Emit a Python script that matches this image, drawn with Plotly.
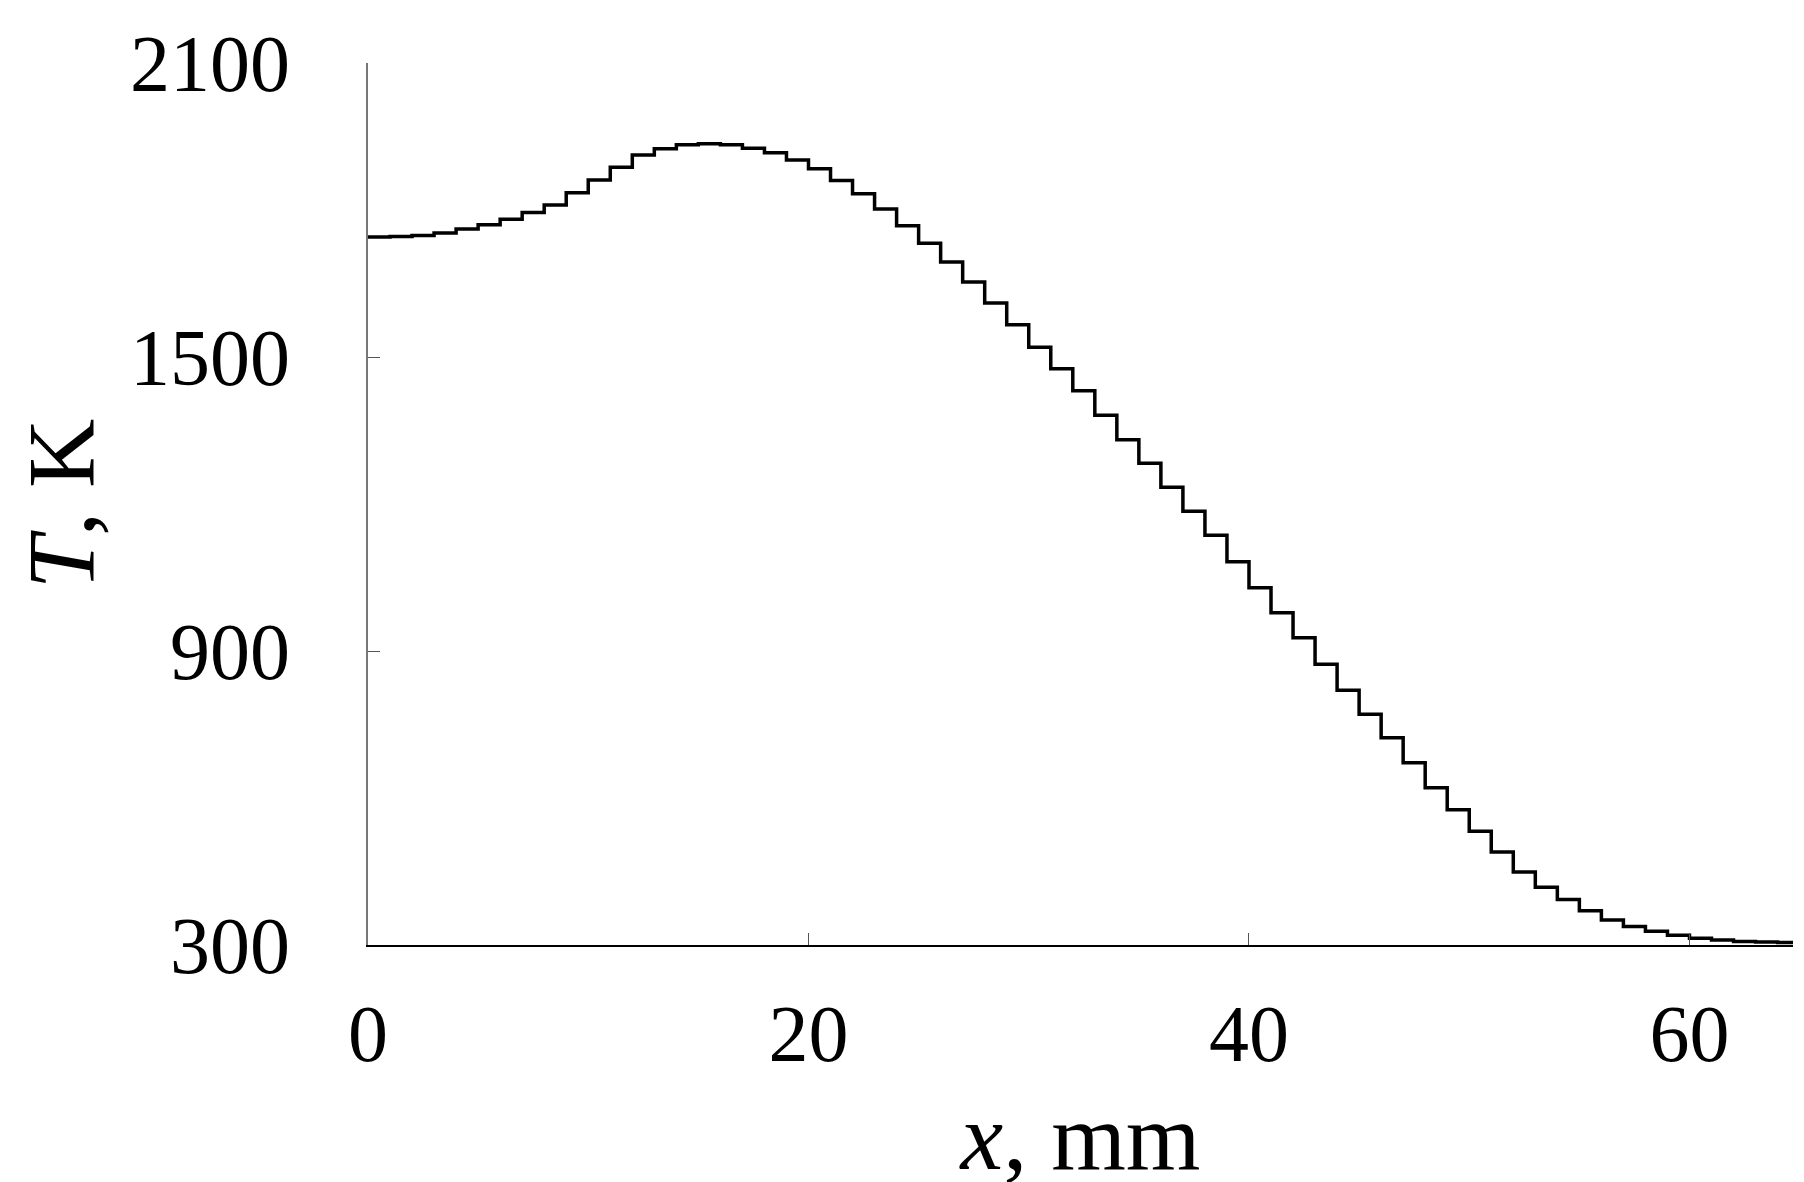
import plotly.graph_objects as go

# temperature profile, one value per mm
x_mm = list(range(0, 65)) + [64.7]
temp_k = [1745, 1746, 1748, 1753, 1761, 1770, 1781, 1795, 1810, 1835,
          1861, 1887, 1912, 1925, 1933, 1935, 1933, 1926, 1917, 1902,
          1884, 1860, 1833, 1802, 1768, 1732, 1694, 1653, 1610, 1566,
          1520, 1476, 1431, 1381, 1331, 1283, 1234, 1185, 1136, 1082,
          1029, 978, 927, 873, 820, 771, 723, 672, 621, 576,
          532, 490, 449, 418, 393, 370, 351, 338, 328, 320,
          314, 310, 307, 306, 305, 305]

x_ticks = [0, 20, 40, 60]
y_ticks = [300, 900, 1500, 2100]

font = "Liberation Serif"

fig = go.Figure(go.Scatter(x=x_mm, y=temp_k, mode="lines", line_shape="hv",
                           line=dict(color="black", width=3.5), showlegend=False))

fig.update_layout(
    width=1804, height=1182,
    margin=dict(l=360, r=19, t=46, b=245),
    paper_bgcolor="white", plot_bgcolor="white",
    font=dict(family=font, size=80, color="black"),
)
fig.update_xaxes(range=[0, 64.7], tickvals=x_ticks, ticks="inside", ticklen=12,
                 tickcolor="#555", showline=True, linecolor="black", linewidth=2,
                 showgrid=False, zeroline=False, ticklabelstandoff=18,
                 title=dict(text="<i>x</i>, mm", standoff=25))
fig.update_yaxes(range=[300, 2100], tickvals=y_ticks, ticks="inside", ticklen=12,
                 tickcolor="#555", showline=True, linecolor="#777", linewidth=2,
                 showgrid=False, zeroline=False, ticklabelstandoff=60,
                 title=dict(text="<i>T</i>, K", standoff=30))

fig.write_html("out.html")
